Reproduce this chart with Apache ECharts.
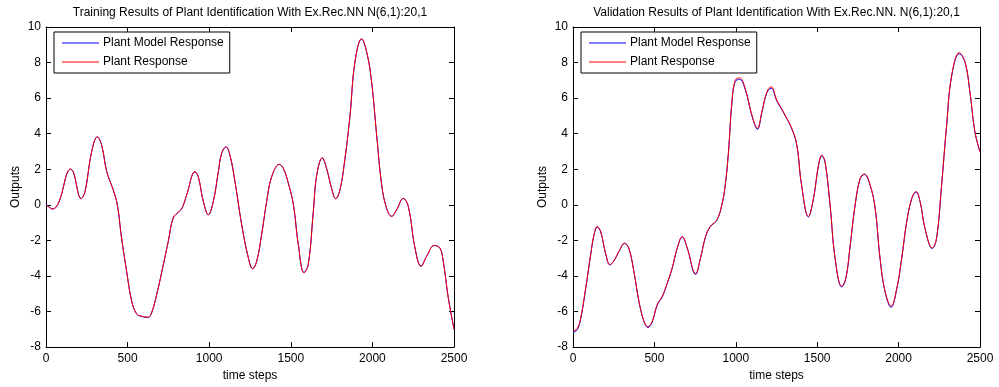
<!DOCTYPE html>
<html>
<head>
<meta charset="utf-8">
<title>Plant Identification With Ex.Rec.NN</title>
<script src="https://cdn.jsdelivr.net/npm/echarts@6/dist/echarts.min.js"></script>
<style>
  html, body { margin: 0; padding: 0; background: #fff; }
  #chart { width: 999px; height: 387px; }
</style>
</head>
<body>
<div id="chart"></div>
<script>
// Training run: time step and output samples
const trainSteps = [0, 41, 76, 151, 167, 216, 239, 280, 314, 341, 372, 412, 437, 463, 494, 525, 555, 586, 626, 647, 678, 719, 749, 780, 811, 835, 862, 913, 933, 964, 995, 1025, 1056, 1076, 1103, 1127, 1158, 1199, 1240, 1266, 1291, 1321, 1352, 1383, 1430, 1454, 1485, 1516, 1546, 1581, 1607, 1638, 1659, 1693, 1719, 1750, 1775, 1801, 1832, 1863, 1893, 1934, 1965, 1995, 2026, 2057, 2087, 2118, 2148, 2189, 2220, 2261, 2298, 2332, 2379, 2414, 2434, 2465, 2500];
const trainPlant = [0, -0.22, 0.1, 2.02, 1.87, 0.34, 0.75, 3.0, 3.83, 3.36, 1.87, 0.84, 0, -1.87, -3.74, -5.42, -6.13, -6.26, -6.32, -6.07, -5.05, -3.36, -2.06, -0.71, -0.41, -0.15, 0.56, 1.87, 1.59, 0.19, -0.56, 0.19, 1.87, 2.9, 3.27, 2.8, 1.31, -1.12, -2.99, -3.6, -3.18, -1.68, 0.19, 1.59, 2.28, 2.06, 1.21, 0, -2.24, -3.83, -3.36, -0.37, 1.68, 2.65, 2.06, 0.93, 0.34, 0.84, 2.62, 5.05, 8.04, 9.35, 8.6, 6.92, 3.93, 1.12, -0.19, -0.65, -0.28, 0.37, -0.09, -2.43, -3.46, -2.9, -2.28, -2.43, -3.18, -5.23, -7.0];
const trainModel = [0.05, -0.24, 0.08, 2.0, 1.85, 0.36, 0.74, 2.98, 3.81, 3.35, 1.88, 0.83, 0, -1.86, -3.73, -5.40, -6.12, -6.28, -6.33, -6.08, -5.06, -3.37, -2.07, -0.72, -0.42, -0.16, 0.55, 1.85, 1.58, 0.2, -0.55, 0.18, 1.86, 2.88, 3.25, 2.79, 1.3, -1.1, -2.97, -3.58, -3.17, -1.69, 0.18, 1.58, 2.27, 2.05, 1.2, 0.01, -2.22, -3.8, -3.35, -0.38, 1.66, 2.63, 2.05, 0.92, 0.35, 0.83, 2.6, 5.03, 8.02, 9.32, 8.58, 6.9, 3.92, 1.11, -0.2, -0.64, -0.29, 0.35, -0.1, -2.42, -3.44, -2.9, -2.29, -2.44, -3.17, -5.22, -6.98];

// Validation run: time step and output samples
const validSteps = [0, 26, 47, 78, 108, 129, 149, 170, 200, 227, 251, 282, 317, 343, 374, 405, 436, 460, 487, 517, 548, 579, 609, 640, 671, 702, 753, 783, 814, 843, 884, 914, 935, 955, 976, 996, 1023, 1058, 1099, 1133, 1160, 1191, 1217, 1252, 1292, 1344, 1375, 1404, 1446, 1477, 1508, 1528, 1548, 1579, 1610, 1651, 1676, 1703, 1733, 1764, 1790, 1825, 1856, 1886, 1917, 1954, 1989, 2019, 2050, 2081, 2107, 2132, 2162, 2207, 2233, 2264, 2295, 2326, 2373, 2408, 2438, 2469, 2500];
const validPlant = [-7.1, -6.95, -6.36, -4.67, -2.8, -1.68, -1.21, -1.5, -2.71, -3.36, -3.14, -2.62, -2.15, -2.43, -3.74, -5.42, -6.54, -6.86, -6.54, -5.61, -5.14, -4.39, -3.55, -2.43, -1.78, -2.43, -3.87, -2.99, -1.78, -1.21, -0.84, 0, 1.12, 2.99, 5.79, 7.0, 7.14, 6.54, 5.05, 4.3, 5.23, 6.36, 6.64, 5.89, 5.23, 4.3, 3.36, 1.12, -0.65, 0.37, 2.24, 2.8, 2.43, 0, -2.99, -4.58, -4.11, -2.24, 0, 1.5, 1.74, 1.12, -0.19, -2.99, -4.86, -5.7, -4.67, -2.99, -0.93, 0.37, 0.75, 0.19, -1.31, -2.43, -1.87, 1.12, 4.49, 7.29, 8.56, 8.04, 6.36, 4.11, 2.99];
const validModel = [-7.18, -7.02, -6.42, -4.72, -2.85, -1.72, -1.26, -1.52, -2.73, -3.38, -3.16, -2.64, -2.18, -2.45, -3.76, -5.44, -6.57, -6.9, -6.58, -5.65, -5.18, -4.42, -3.58, -2.46, -1.82, -2.45, -3.92, -3.02, -1.81, -1.24, -0.86, -0.02, 1.08, 2.95, 5.72, 6.93, 7.05, 6.48, 5.0, 4.25, 5.18, 6.3, 6.55, 5.84, 5.2, 4.27, 3.33, 1.1, -0.68, 0.34, 2.2, 2.74, 2.4, -0.02, -3.02, -4.62, -4.15, -2.27, -0.03, 1.47, 1.7, 1.1, -0.22, -3.02, -4.9, -5.76, -4.72, -3.02, -0.96, 0.34, 0.71, 0.17, -1.33, -2.46, -1.9, 1.08, 4.45, 7.24, 8.5, 8.0, 6.33, 4.08, 2.97];

const seriesNames = ['Plant Model Response', 'Plant Response'];
const panelTitles = [
  'Training Results of Plant Identification With Ex.Rec.NN N(6,1):20,1',
  'Validation Results of Plant Identification With Ex.Rec.NN. N(6,1):20,1'
];
const xTicks = { min: 0, max: 2500, interval: 500 };
const yTicks = { min: -8, max: 10, interval: 2 };

const FONT = '"Liberation Sans", Arial, sans-serif';
const grids = [
  { left: 46, top: 27, width: 408, height: 321 },
  { left: 573, top: 27, width: 407, height: 321 }
];

function pairs(xs, ys) { return xs.map((x, i) => [x, ys[i]]); }

const axisLine = { onZero: false, lineStyle: { color: '#000', width: 1 } };
const axisTick = { inside: true, length: 5, lineStyle: { color: '#000', width: 1 } };
const axisLabel = { color: '#000', fontSize: 12, fontFamily: FONT, formatter: v => String(v) };

const xAxes = [], yAxes = [];
grids.forEach((g, i) => {
  xAxes.push({
    gridIndex: i, type: 'value', position: 'bottom', ...xTicks,
    axisLine, axisTick, splitLine: { show: false },
    axisLabel: { ...axisLabel, margin: 6, showMinLabel: true, showMaxLabel: true },
    name: 'time steps', nameLocation: 'middle', nameGap: 18,
    nameTextStyle: { color: '#000', fontSize: 12, fontFamily: FONT }
  });
  xAxes.push({
    gridIndex: i, type: 'value', position: 'top', ...xTicks,
    axisLine, axisTick, splitLine: { show: false }, axisLabel: { show: false }
  });
  yAxes.push({
    gridIndex: i, type: 'value', position: 'left', ...yTicks,
    axisLine, axisTick, splitLine: { show: false },
    axisLabel: { ...axisLabel, margin: 5, showMinLabel: true, showMaxLabel: true },
    name: 'Outputs', nameLocation: 'middle', nameGap: 24, nameRotate: 90,
    nameTextStyle: { color: '#000', fontSize: 12, fontFamily: FONT }
  });
  yAxes.push({
    gridIndex: i, type: 'value', position: 'right', ...yTicks,
    axisLine, axisTick, splitLine: { show: false }, axisLabel: { show: false }
  });
});

function lineSeries(name, color, data, panel, z) {
  return {
    name, type: 'line', xAxisIndex: panel * 2, yAxisIndex: panel * 2,
    data, showSymbol: false, smooth: 0.4, z,
    lineStyle: { color, width: 1 }, itemStyle: { color },
    emphasis: { disabled: true }, animation: false
  };
}

const series = [
  lineSeries(seriesNames[0], '#0000ff', pairs(trainSteps, trainModel), 0, 2),
  lineSeries(seriesNames[1], '#ff0000', pairs(trainSteps, trainPlant), 0, 3),
  lineSeries(seriesNames[0], '#0000ff', pairs(validSteps, validModel), 1, 2),
  lineSeries(seriesNames[1], '#ff0000', pairs(validSteps, validPlant), 1, 3)
];

const legends = grids.map(g => ({
  data: seriesNames, orient: 'vertical',
  left: g.left + 8, top: 32,
  padding: [5, 6, 5, 8], itemGap: 7,
  itemWidth: 37, itemHeight: 1, icon: 'rect',
  borderColor: '#000', borderWidth: 1, backgroundColor: '#fff',
  textStyle: { color: '#000', fontSize: 12, fontFamily: FONT, padding: [0, 0, 0, -1] },
  selectedMode: false
}));

const titles = grids.map((g, i) => ({
  type: 'text', x: g.left + g.width / 2, y: 13,
  style: {
    text: panelTitles[i], fill: '#000', font: '12px ' + FONT,
    align: 'center', verticalAlign: 'middle',
    textAlign: 'center', textVerticalAlign: 'middle'
  }
}));

const chart = echarts.init(document.getElementById('chart'), null, { renderer: 'canvas' });
chart.setOption({
  backgroundColor: '#fff',
  animation: false,
  grid: grids,
  xAxis: xAxes,
  yAxis: yAxes,
  legend: legends,
  graphic: titles,
  series
});
</script>
</body>
</html>
